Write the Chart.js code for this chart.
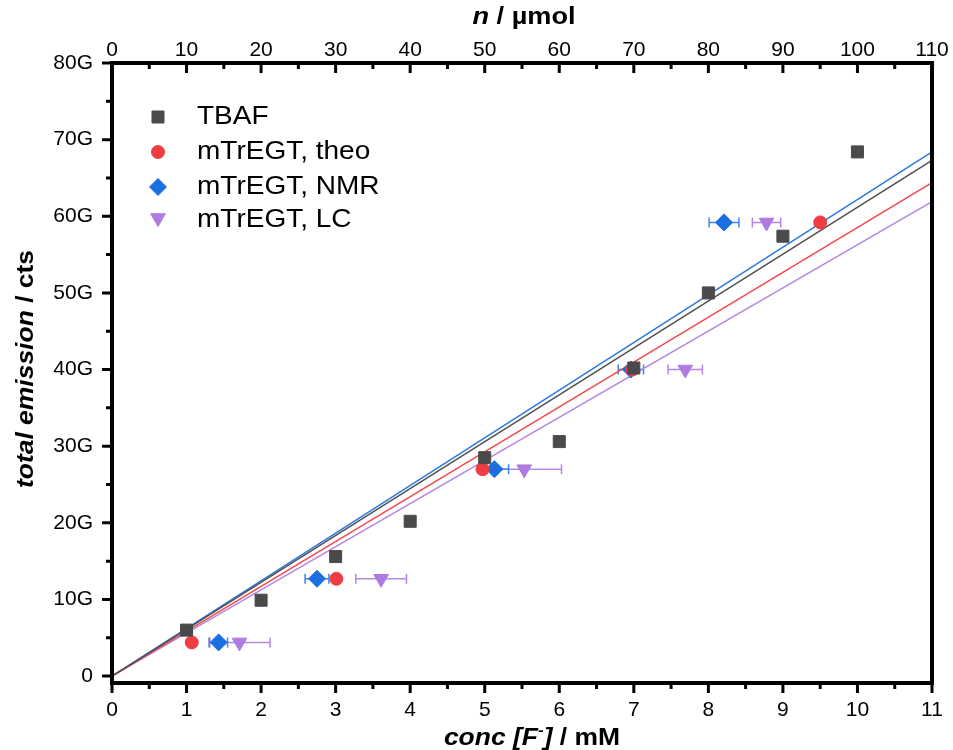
<!DOCTYPE html>
<html><head><meta charset="utf-8">
<script src="https://cdn.jsdelivr.net/npm/chart.js@4.4.1/dist/chart.umd.min.js"></script>
<style>html,body{margin:0;padding:0;background:#fff}#wrap{width:953px;height:750px;position:relative}</style>
</head><body><div id="wrap"><canvas id="c" width="953" height="750"></canvas></div>
<script>
// ---- data ----
const tbafX = [1, 2, 3, 4, 5, 6, 7, 8, 9, 10];
const tbafY = [6.0, 9.9, 15.6, 20.2, 28.5, 30.6, 40.2, 50.0, 57.4, 68.4];
const theoX = [1.07, 3.01, 4.97, 6.98, 9.50];
const theoY = [4.4, 12.7, 27.0, 40.0, 59.2];
const nmrX = [1.43, 2.75, 5.13, 6.96, 8.21];
const nmrY = [4.4, 12.7, 27.0, 40.0, 59.2];
const nmrErr = [0.12, 0.16, 0.19, 0.17, 0.20];
const lcX = [1.71, 3.61, 5.53, 7.69, 8.78];
const lcY = [4.4, 12.7, 27.0, 40.0, 59.2];
const lcErr = [0.41, 0.34, 0.50, 0.23, 0.19];
// linear fits through origin (endpoints read at x = 11)
const fitX = [0, 11];
const fitTbaf = [0, 67.3];
const fitTheo = [0, 64.4];
const fitNmr = [0, 68.4];
const fitLc = [0, 61.9];
// tick labels
const xTicks = [0, 1, 2, 3, 4, 5, 6, 7, 8, 9, 10, 11];
const topTicks = [0, 10, 20, 30, 40, 50, 60, 70, 80, 90, 100, 110];
const yTicks = [0, 10, 20, 30, 40, 50, 60, 70, 80];
const seriesNames = ['TBAF', 'mTrEGT, theo', 'mTrEGT, NMR', 'mTrEGT, LC'];

const FONT = "'Liberation Sans', Arial, sans-serif";
const C = {
  tbaf: '#4a4a4a', theo: '#ef3d42', nmr: '#1c6fe0', lc: '#b07be0',
  tbafL: '#505050', theoL: '#f04a4e', nmrL: '#2a78e2', lcL: '#b487e4'
};
const pts = (xs, ys) => xs.map((x, i) => ({x, y: ys[i]}));

Chart.defaults.color = '#000';
Chart.defaults.font.family = FONT;

const errPlugin = {
  id: 'err',
  beforeDatasetsDraw(chart) {
    const ctx = chart.ctx, xs = chart.scales.x, ys = chart.scales.y;
    const draw = (X, Y, E, col) => {
      ctx.save();
      ctx.strokeStyle = col; ctx.lineWidth = 1.5;
      X.forEach((x, i) => {
        const x1 = xs.getPixelForValue(x - E[i]), x2 = xs.getPixelForValue(x + E[i]);
        const py = ys.getPixelForValue(Y[i]);
        ctx.beginPath();
        ctx.moveTo(x1, py); ctx.lineTo(x2, py);
        ctx.moveTo(x1, py - 5); ctx.lineTo(x1, py + 5);
        ctx.moveTo(x2, py - 5); ctx.lineTo(x2, py + 5);
        ctx.stroke();
      });
      ctx.restore();
    };
    draw(lcX, lcY, lcErr, C.lcL);
    draw(nmrX, nmrY, nmrErr, '#3f86e6');
  }
};

function drawRuns(ctx, runs, x, y, align, sx) {
  let total = 0;
  runs.forEach(r => { ctx.font = r[1]; total += ctx.measureText(r[0]).width; });
  ctx.save();
  ctx.translate(x, y);
  ctx.scale(sx, 1);
  let cx = align === 'center' ? -total / 2 : 0;
  ctx.textBaseline = 'middle';
  ctx.textAlign = 'left';
  runs.forEach(r => {
    ctx.font = r[1];
    ctx.fillText(r[0], cx, r[2] || 0);
    cx += ctx.measureText(r[0]).width;
  });
  ctx.restore();
}

const framePlugin = {
  id: 'frame',
  afterDraw(chart) {
    const ctx = chart.ctx, a = chart.chartArea;
    const xs = chart.scales.x, xt = chart.scales.x2, ys = chart.scales.y;
    ctx.save();
    ctx.strokeStyle = '#000';
    ctx.lineCap = 'butt';
    ctx.lineWidth = 3;
    ctx.beginPath();
    for (let i = 0; i < xTicks.length; i++) {
      const v = xTicks[i];
      let p = xs.getPixelForValue(v);
      ctx.moveTo(p, a.bottom); ctx.lineTo(p, a.bottom + 10);
      if (i < xTicks.length - 1) {
        p = xs.getPixelForValue((v + xTicks[i + 1]) / 2);
        ctx.moveTo(p, a.bottom); ctx.lineTo(p, a.bottom + 6);
      }
    }
    for (let i = 0; i < topTicks.length; i++) {
      const v = topTicks[i];
      let p = xt.getPixelForValue(v);
      ctx.moveTo(p, a.top); ctx.lineTo(p, a.top + 10);
      if (i < topTicks.length - 1) {
        p = xt.getPixelForValue((v + topTicks[i + 1]) / 2);
        ctx.moveTo(p, a.top); ctx.lineTo(p, a.top + 6);
      }
    }
    for (let i = 0; i < yTicks.length; i++) {
      const v = yTicks[i];
      let p = ys.getPixelForValue(v);
      ctx.moveTo(a.left, p); ctx.lineTo(a.left - 10, p);
      if (i < yTicks.length - 1) {
        p = ys.getPixelForValue((v + yTicks[i + 1]) / 2);
        ctx.moveTo(a.left, p); ctx.lineTo(a.left - 6, p);
      }
    }
    ctx.stroke();
    ctx.lineWidth = 4;
    ctx.strokeRect(a.left, a.top, a.right - a.left, a.bottom - a.top);
    ctx.restore();

    // axis titles
    ctx.save();
    ctx.fillStyle = '#000';
    const BI = "italic bold 23px " + FONT, B = "bold 23px " + FONT;
    const cx = (a.left + a.right) / 2;
    drawRuns(ctx, [['n', BI], [' / µmol', B]], cx + 2, 18, 'center', 1.18);
    drawRuns(ctx, [['conc [F', BI], ['-', "italic bold 15px " + FONT, -8], [']', BI], [' / mM', B]], cx + 10, 739, 'center', 1.15);
    ctx.save();
    ctx.translate(27, (a.top + a.bottom) / 2 - 4);
    ctx.rotate(-Math.PI / 2);
    drawRuns(ctx, [['total emission', BI], [' / cts', B]], 0, 0, 'center', 1.15);
    ctx.restore();
    ctx.restore();

    // legend
    const ds = chart.data.datasets.filter(d => d.isPoints);
    const rowsY = [117, 152, 187, 220];
    ctx.save();
    ds.forEach((d, i) => {
      ctx.fillStyle = d.backgroundColor;
      ctx.strokeStyle = d.borderColor;
      ctx.lineWidth = 1;
      Chart.helpers.drawPoint(ctx, {pointStyle: d.pointStyle, radius: d.pointRadius, rotation: d.rotation || 0, borderWidth: 1}, 158, rowsY[i] + (d.pointStyle === 'triangle' ? -2 : 0));
      ctx.fillStyle = '#000';
      drawRuns(ctx, [[d.label, "25px " + FONT]], 197, rowsY[i], 'left', 1.12);
    });
    ctx.restore();
  }
};

const pointDs = (label, data, color, style, r, extra) => Object.assign({
  type: 'scatter', label, data, isPoints: true,
  backgroundColor: color, borderColor: color, borderWidth: 1,
  pointStyle: style, pointRadius: r, pointHoverRadius: r,
  xAxisID: 'x', yAxisID: 'y', order: 1
}, extra || {});
const lineDs = (label, ys, color) => ({
  type: 'line', label, data: pts(fitX, ys), borderColor: color, backgroundColor: color,
  borderWidth: 1.5, pointRadius: 0, fill: false, tension: 0,
  xAxisID: 'x', yAxisID: 'y', order: 2
});

new Chart(document.getElementById('c'), {
  type: 'scatter',
  data: {
    datasets: [
      lineDs('fit TBAF', fitTbaf, C.tbafL),
      lineDs('fit theo', fitTheo, C.theoL),
      lineDs('fit NMR', fitNmr, C.nmrL),
      lineDs('fit LC', fitLc, C.lcL),
      pointDs(seriesNames[0], pts(tbafX, tbafY), C.tbaf, 'rect', 8.5),
      pointDs(seriesNames[1], pts(theoX, theoY), C.theo, 'circle', 6.5),
      pointDs(seriesNames[2], pts(nmrX, nmrY), C.nmr, 'rectRot', 8.5),
      pointDs(seriesNames[3], pts(lcX, lcY), C.lc, 'triangle', 8.5, {rotation: 180})
    ]
  },
  options: {
    responsive: false,
    animation: false,
    devicePixelRatio: 1,
    layout: {padding: {left: 0, right: 21, top: 0, bottom: 0}},
    plugins: {legend: {display: false}, tooltip: {enabled: false}, title: {display: false}},
    scales: {
      x: {
        type: 'linear', position: 'bottom', min: 0, max: 11,
        afterBuildTicks: s => { s.ticks = xTicks.map(v => ({value: v})); },
        afterFit: s => { s.height = 67; s.paddingLeft = 0; s.paddingRight = 0; },
        ticks: {font: {size: 21}, padding: 15, color: '#000'},
        grid: {display: false, drawTicks: false}, border: {display: false}
      },
      x2: {
        type: 'linear', position: 'top', min: 0, max: 110,
        afterBuildTicks: s => { s.ticks = topTicks.map(v => ({value: v})); },
        afterFit: s => { s.height = 63; s.paddingLeft = 0; s.paddingRight = 0; },
        ticks: {font: {size: 21}, padding: 0, color: '#000'},
        grid: {display: false, drawTicks: false}, border: {display: false}
      },
      y: {
        type: 'linear', position: 'left', min: -0.9, max: 80,
        afterBuildTicks: s => { s.ticks = yTicks.map(v => ({value: v})); },
        afterFit: s => { s.width = 112; s.paddingTop = 0; s.paddingBottom = 0; },
        ticks: {font: {size: 21}, padding: 19, color: '#000', callback: v => v === 0 ? '0' : v + 'G'},
        grid: {display: false, drawTicks: false}, border: {display: false}
      }
    }
  },
  plugins: [errPlugin, framePlugin]
});
</script></body></html>
